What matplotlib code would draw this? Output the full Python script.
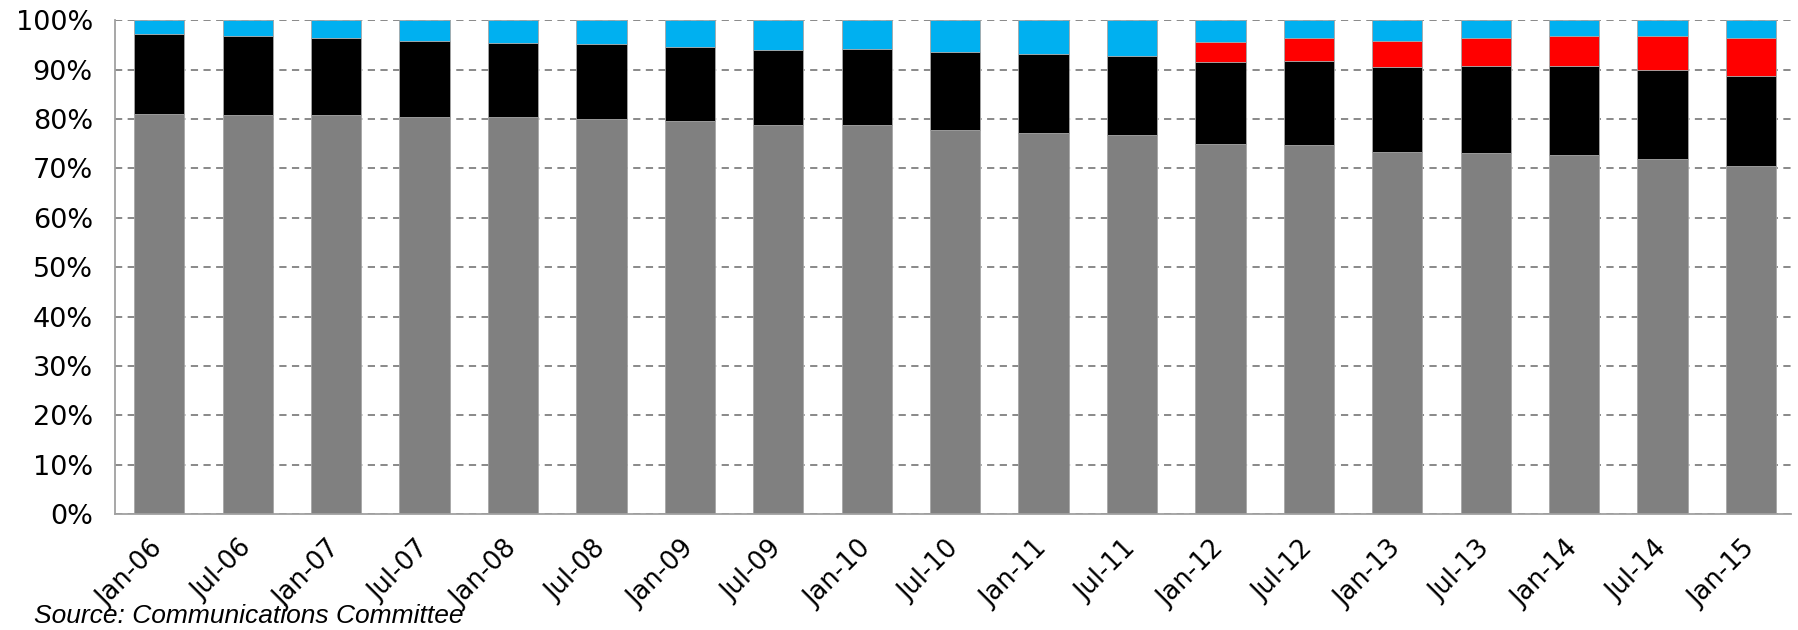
import matplotlib.pyplot as plt
import numpy as np

# periods on the x axis
periods = ['Jan-06', 'Jul-06', 'Jan-07', 'Jul-07', 'Jan-08', 'Jul-08',
           'Jan-09', 'Jul-09', 'Jan-10', 'Jul-10', 'Jan-11', 'Jul-11',
           'Jan-12', 'Jul-12', 'Jan-13', 'Jul-13', 'Jan-14', 'Jul-14',
           'Jan-15']

# market shares (%)
grey_share = [80.9, 80.7, 80.7, 80.3, 80.3, 79.9, 79.5, 78.7, 78.8, 77.8,
              77.2, 76.7, 75.0, 74.7, 73.3, 73.1, 72.8, 71.8, 70.4]
black_share = [16.3, 16.1, 15.6, 15.5, 15.1, 15.2, 15.1, 15.3, 15.3, 15.7,
               16.0, 16.1, 16.6, 17.1, 17.2, 17.6, 17.9, 18.1, 18.3]
red_share = [0, 0, 0, 0, 0, 0, 0, 0, 0, 0, 0, 0,
             4.0, 4.6, 5.3, 5.7, 6.1, 6.8, 7.7]
blue_share = [100 - g - b - r for g, b, r in zip(grey_share, black_share, red_share)]

fig = plt.figure(figsize=(17.98, 6.30), dpi=100)
ax = fig.add_axes([0.064, 0.184, 0.932, 0.784])

x = np.arange(len(periods))
w = 0.57
edge = dict(edgecolor='#a6a6a6', linewidth=0.6)

bottom = np.zeros(len(periods))
for vals, col in [(grey_share, '#808080'), (black_share, '#000000'),
                  (red_share, '#ff0000'), (blue_share, '#00b0f0')]:
    ax.bar(x, vals, w, bottom=bottom, color=col, zorder=2, **edge)
    bottom += np.array(vals)

ax.set_xlim(-0.5, 18.45)
ax.set_ylim(0, 100)
ax.set_yticks(np.arange(0, 101, 10))
ax.set_yticklabels([f'{v}%' for v in range(0, 101, 10)], fontsize=19.5)
ax.yaxis.grid(True, linestyle=(0, (4, 3)), color='#808080', linewidth=1.3, zorder=1)
ax.set_axisbelow(True)

ax.set_xticks(x)
ax.set_xticklabels(periods, fontsize=18.5, rotation=45, ha='right',
                   va='center', rotation_mode='anchor')
ax.tick_params(axis='both', length=0)
ax.tick_params(axis='x', pad=22)
ax.tick_params(axis='y', pad=16)

for s in ['top', 'right']:
    ax.spines[s].set_visible(False)
for s in ['left', 'bottom']:
    ax.spines[s].set_color('#a0a0a0')
    ax.spines[s].set_linewidth(1.3)

fig.text(0.019, 0.022, 'Source: Communications Committee', fontsize=19,
         style='italic', family='Liberation Sans', va='center', ha='left')

fig.savefig('out.png', dpi=100)
